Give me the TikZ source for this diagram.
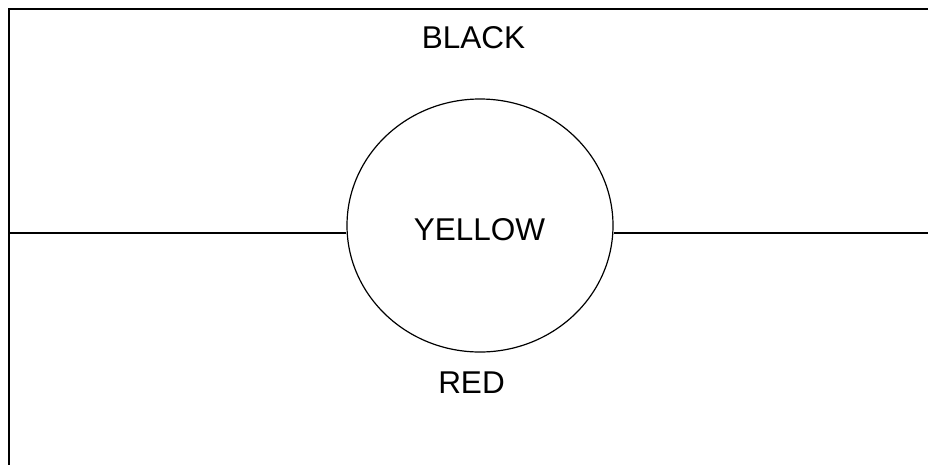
\documentclass[tikz,border=0pt]{standalone}
\usepackage{fontspec}
\setmainfont{Liberation Sans}
\usetikzlibrary{shapes.geometric}
\begin{document}
\begin{tikzpicture}[x=1pt,y=-1pt,
  lbl/.style={font=\fontsize{31.5}{36}\selectfont, inner sep=0pt, anchor=base},
  frame/.style={line width=1.6pt},
  thin/.style={line width=1.2pt}]
\useasboundingbox (0,0) rectangle (928,464);
\coordinate (tl) at (9,9);
\coordinate (tr) at (940,9);
\coordinate (bl) at (9,475);
\coordinate (ml) at (9,233);
\coordinate (mr) at (940,233);
\draw[frame] (bl) -- (tl) -- (tr);
\node[ellipse, draw, thin, minimum width=266pt, minimum height=253pt, inner sep=0pt] (yel) at (480,225.5) {};
\node[lbl] (ytext) at (479.5,240) {YELLOW};
\draw[thin] (ml) -- (yel.west |- ml);
\draw[thin] (yel.east |- mr) -- (mr);
\node[lbl] (black) at (473.5,48) {BLACK};
\node[lbl] (red) at (471.5,393) {RED};
\end{tikzpicture}
\end{document}
